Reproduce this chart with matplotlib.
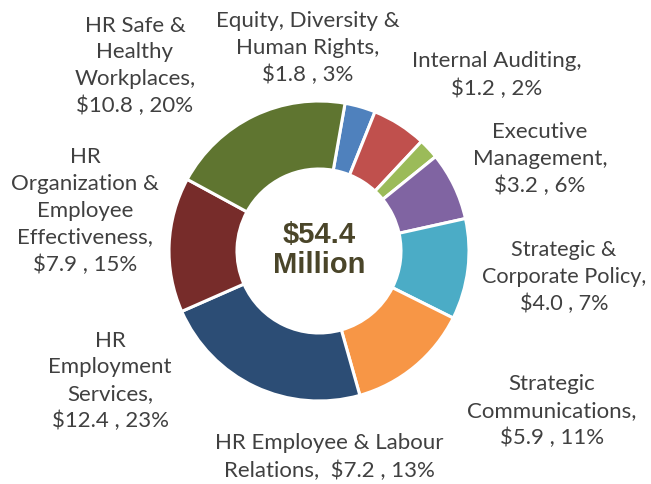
import matplotlib
matplotlib.use("Agg")
import matplotlib.pyplot as plt

names = ["Equity, Diversity &\nHuman Rights", "Executive\nManagement", "Internal Auditing",
         "Strategic &\nCorporate Policy", "Strategic\nCommunications",
         "HR Employee & Labour\nRelations", "HR\nEmployment\nServices",
         "HR\nOrganization &\nEmployee\nEffectiveness", "HR Safe &\nHealthy\nWorkplaces"]
values = [1.8, 3.2, 1.2, 4.0, 5.9, 7.2, 12.4, 7.9, 10.8]
seps = ["\n", "\n", "\n", "\n", "\n", "  ", "\n", "\n", "\n"]
colors = ["#4F81BD", "#C0504D", "#9BBB59", "#8064A2", "#4BACC6", "#F79646",
          "#2C4D75", "#772C2A", "#5F7530"]
# label centre positions in pixels (x, y from top)
label_pos = [(308, 48), (540, 159), (497, 75), (564, 277), (552, 411),
             (329, 457), (110, 381), (85, 211), (135, 66)]

total = sum(values)

fig = plt.figure(figsize=(6.51, 4.85), dpi=100)
ax = fig.add_axes([0, 0, 1, 1])

ax.pie(values, colors=colors, startangle=80, counterclock=False,
       center=(319, 485 - 252), radius=150, frame=True,
       wedgeprops=dict(width=68, edgecolor="white", linewidth=2.2))
ax.set_xlim(0, 651)
ax.set_ylim(0, 485)
ax.axis("off")

for name, v, sep, (px, py) in zip(names, values, seps, label_pos):
    pct = round(v / total * 100)
    txt = f"{name},{sep}${v:.1f} , {pct}%"
    fs = 15.6 if "Corporate" in name else 16
    ax.text(px, 485 - py, txt, ha="center", va="center", fontsize=fs,
            family="Lato", color="#404040", linespacing=1.42, parse_math=False)

ax.text(319, 485 - 250, f"${total:.1f}\nMillion", ha="center", va="center",
        fontsize=21, fontweight="bold", family="Liberation Sans",
        color="#4A4529", linespacing=1.12, parse_math=False)

fig.savefig("out.png", dpi=100)
